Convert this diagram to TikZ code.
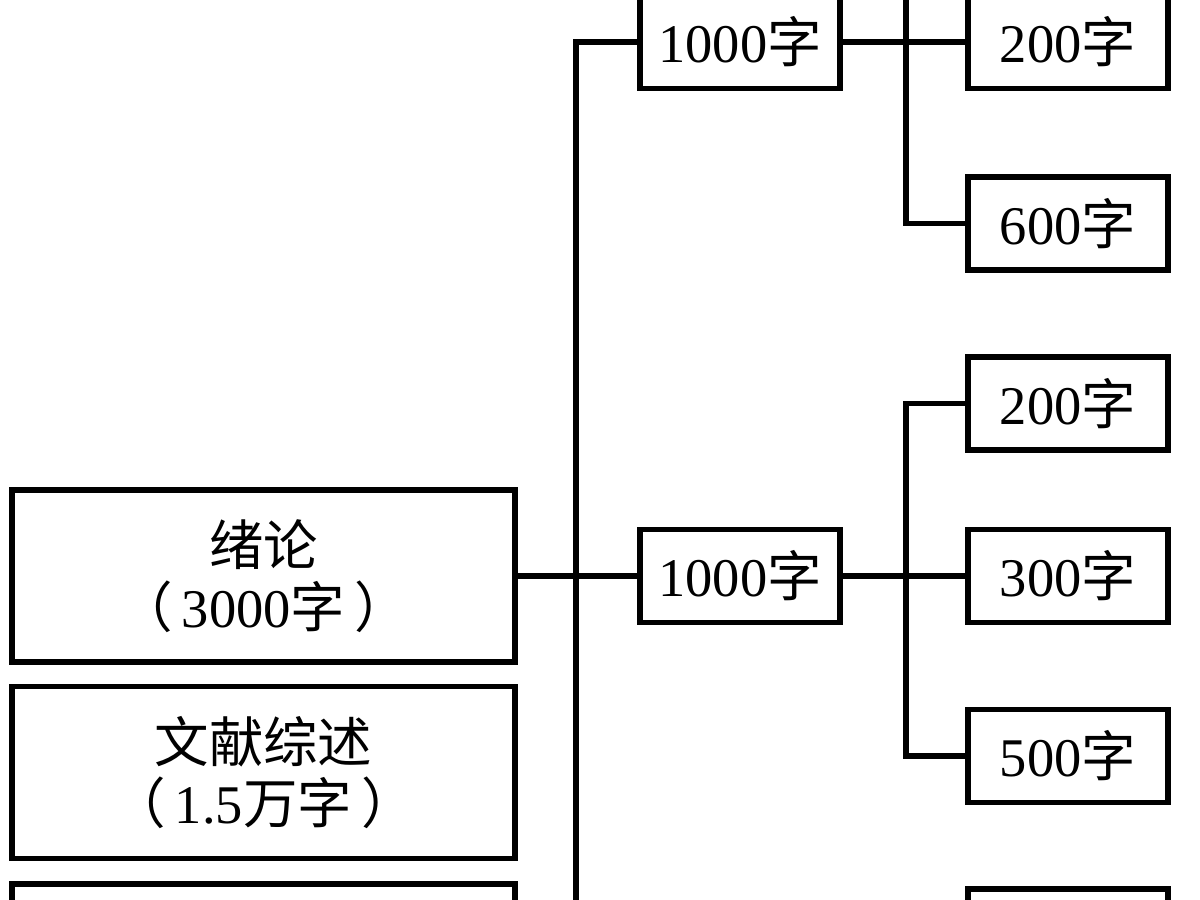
\documentclass[tikz,border=0pt]{standalone}
\usepackage{fontspec}
\setmainfont{Liberation Serif}
\newfontfamily\cjk{Noto Sans CJK SC}
\newcommand{\zi}{{\cjk 字}}

\begin{document}
\begin{tikzpicture}[
  wordbox/.style={draw,line width=1.7pt,minimum width=2cm,minimum height=0.93cm,
    inner sep=0pt,font=\fontsize{15.5}{17.5}\selectfont},
  partbox/.style={wordbox,minimum width=5.03cm,minimum height=1.72cm,align=center},
  link/.style={line width=1.7pt}]
  \useasboundingbox (0,0) rectangle (12,9);
  \clip (0,0) rectangle (12,9);
  % left column
  \node[partbox] (intro) at (2.635,3.24) {{\cjk 绪论}\\{\cjk （}\,3000{\cjk 字}\,{\cjk ）}};
  \node[partbox] (review) at (2.635,1.275) {{\cjk 文献综述}\\{\cjk （}\,1.5{\cjk 万字}\,{\cjk ）}};
  \node[partbox] (third) at (2.635,-0.70) {};
  % middle column
  \node[wordbox] (midA) at (7.40,8.58) {1000\zi};
  \node[wordbox] (midB) at (7.40,3.24) {1000\zi};
  % right column
  \node[wordbox] (r1) at (10.68,8.58) {200\zi};
  \node[wordbox] (r2) at (10.68,6.765) {600\zi};
  \node[wordbox] (r3) at (10.68,4.965) {200\zi};
  \node[wordbox] (r4) at (10.68,3.24) {300\zi};
  \node[wordbox] (r5) at (10.68,1.44) {500\zi};
  \node[wordbox] (r6) at (10.68,-0.355) {};
  % connectors
  \coordinate (trunkend) at (5.76,-0.5);
  \coordinate (forktop) at (9.06,9.3);
  \draw[link] (midA.west) -- (midA.west -| trunkend) -- (trunkend);
  \draw[link] (intro.east) -- (midB.west);
  \draw[link] (midA.east) -- (r1.west);
  \draw[link] (forktop) |- (r2.west);
  \draw[link] (midB.east) -- (r4.west);
  \draw[link] (r3.west) -- (r3.west -| forktop) |- (r5.west);
\end{tikzpicture}
\end{document}
